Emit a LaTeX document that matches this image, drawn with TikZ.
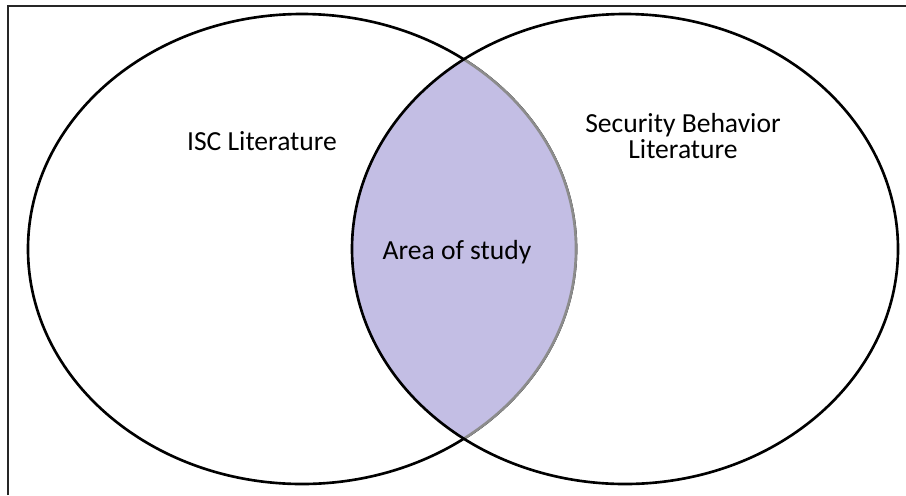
\documentclass[tikz,border=0pt]{standalone}
\usepackage{fontspec}
\setmainfont{Carlito}
\definecolor{lensfill}{RGB}{195,190,228}
\begin{document}
\begin{tikzpicture}
[
 x=0.02cm, y=-0.02cm,
 SETLINE/.style={draw=black, line width=1.5pt},
 LENSLINE/.style={draw=black!45, line width=1.5pt},
 FRAME/.style={draw=black!85, line width=1.2pt},
 LABEL/.style={font=\fontsize{15.7}{15}\selectfont, align=center, inner sep=0pt},
 ]
%
\useasboundingbox (0,0) rectangle (906,495);
\fill[white] (0,0) rectangle (906,495);
%
\coordinate (FL) at (8,495);
\coordinate (FC) at (8,6);
\coordinate (FR) at (906,6);
\draw [FRAME]  (FL) -- (FC) -- (FR);
%
\coordinate (ISC) at (302,249);
\coordinate (SB)  at (625,249);
%
\draw [SETLINE]  (ISC) ellipse [x radius=274, y radius=235];
\begin{scope}
  \clip (SB) ellipse [x radius=273, y radius=235];
  \fill [lensfill]  (ISC) ellipse [x radius=274, y radius=235];
  \draw [LENSLINE]  (ISC) ellipse [x radius=274, y radius=235];
\end{scope}
\draw [SETLINE]  (SB) ellipse [x radius=273, y radius=235];
%
\node [LABEL]  (ISCLIT)   at (262,141)  {ISC Literature};
\node [LABEL]  (SBLIT)    at (683,136)  {Security Behavior\\Literature};
\node [LABEL]  (STUDY)    at (457,252)  {Area of study};
%
\end{tikzpicture}
\end{document}
